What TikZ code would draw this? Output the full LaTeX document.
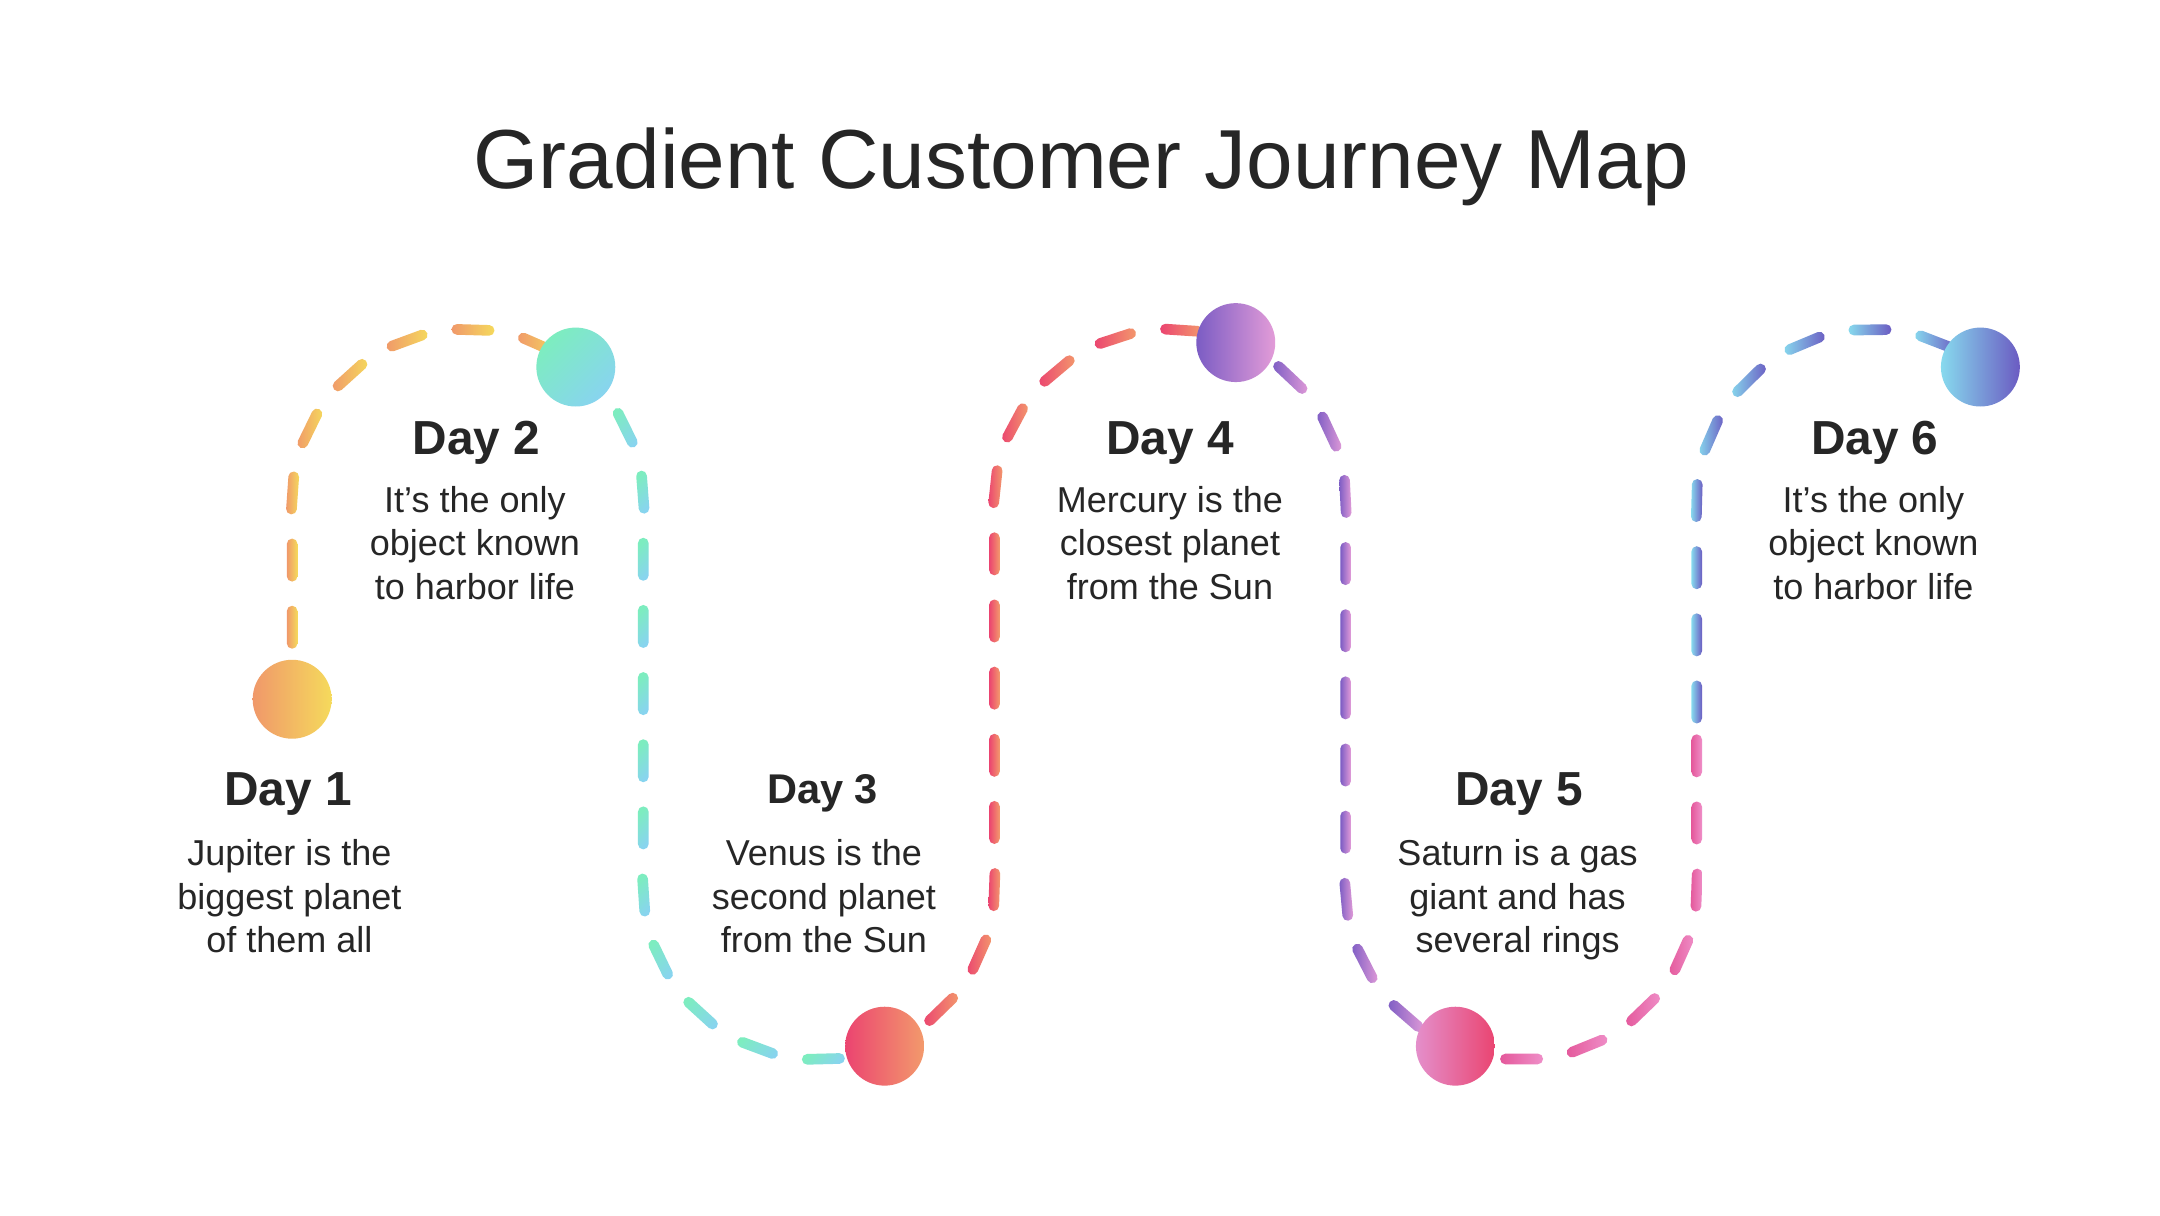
\documentclass[tikz,border=0pt]{standalone}
\usepackage{fontspec}
\setmainfont{Liberation Sans}
\usetikzlibrary{decorations.markings,backgrounds,calc}
\definecolor{ink}{HTML}{262626}
\definecolor{oA}{HTML}{F0986A}
\definecolor{oB}{HTML}{F5DA5C}
\definecolor{gA}{HTML}{7DEDBF}
\definecolor{gB}{HTML}{88D4EF}
\definecolor{rA}{HTML}{EB4470}
\definecolor{rB}{HTML}{F39A6C}
\definecolor{pA}{HTML}{7B5CC4}
\definecolor{pB}{HTML}{E39CD8}
\definecolor{kA}{HTML}{E48FCB}
\definecolor{kB}{HTML}{EA4571}
\definecolor{sA}{HTML}{E4589B}
\definecolor{sB}{HTML}{EF8FC8}
\definecolor{bA}{HTML}{87DAEE}
\definecolor{bB}{HTML}{6B5BC2}
\newcommand\capsuledash[1]{%
  \pgfgettransformentries{\cdA}{\cdB}{\cdC}{\cdD}{\cdX}{\cdY}%
  \pgftransformresetnontranslations
  \pgfmathsetmacro\cdsx{15.5*\cdA-3.85*\cdB}%
  \pgfmathsetmacro\cdsy{15.5*\cdB+3.85*\cdA}%
  \pgfmathsetmacro\cddx{15.5*\cdA+3.85*\cdB}%
  \pgfmathsetmacro\cddy{15.5*\cdB-3.85*\cdA}%
  \pgfmathsetmacro\cdnsx{0-\cdsx}%
  \pgfmathsetmacro\cdnsy{0-\cdsy}%
  \pgfmathsetmacro\cdndx{0-\cddx}%
  \pgfmathsetmacro\cdndy{0-\cddy}%
  \shade[#1, rounded corners=3.8bp]
    (\cdsx bp,\cdsy bp) -- (\cdndx bp,\cdndy bp) -- (\cdnsx bp,\cdnsy bp) -- (\cddx bp,\cddy bp) -- cycle;%
}
\tikzset{
  dashline/.style 2 args={decorate, decoration={markings,
      mark=between positions #2 and 1 step 48.5bp with {\capsuledash{#1}}}},
  dot/.style={circle, inner sep=0pt, minimum size=57bp},
  titletxt/.style={anchor=base, text=ink, font=\fontsize{60.5bp}{70bp}\selectfont},
  daylbl/.style={anchor=base, text=ink, font=\bfseries\fontsize{34.5bp}{40bp}\selectfont},
  daylblsmall/.style={anchor=base, text=ink, font=\bfseries\fontsize{30bp}{36bp}\selectfont},
  bodytxt/.style={anchor=base, text=ink, inner sep=0pt, font=\fontsize{26bp}{31.5bp}\selectfont}
}
\setlength{\tabcolsep}{0pt}
\begin{document}
\begin{tikzpicture}[x=1bp, y=-1bp]
\useasboundingbox (0,0) rectangle (1560,877.5);
% arc centres
\coordinate (c1) at (337.8,365);
\coordinate (c2) at (591.4,638);
\coordinate (c3) at (845,365);
\coordinate (c4) at (1098.6,638);
\coordinate (c5) at (1352.2,365);
\coordinate (mid) at (1225.4,531);
% circles
\node[dot, left color=oA, right color=oB] (d1) at (211,505) {};
\node[dot, top color=gA, bottom color=gB, shading angle=45] (d2) at ($(c1)+(308:126.8)$) {};
\node[dot, left color=rA, right color=rB] (d3) at ($(c2)+(68:126.8)$) {};
\node[dot, left color=pA, right color=pB] (d4) at ($(c3)+(292:126.8)$) {};
\node[dot, left color=kA, right color=kB] (d5) at ($(c4)+(112:126.8)$) {};
\node[dot, left color=bA, right color=bB] (d6) at ($(c5)+(308:126.8)$) {};
% dashed route
\begin{scope}[on background layer]
\fill[white] (0,0) rectangle (1560,877.5);
\path[dashline={left color=oA, right color=oB}{52bp}]
  (d1.center) -- (211,365) arc[start angle=180, end angle=308, radius=126.8];
\path[dashline={top color=gA, bottom color=gB, shading angle=45}{57bp}]
  (d2.center) arc[start angle=308, end angle=360, radius=126.8] -- (464.6,638)
  arc[start angle=180, end angle=68, radius=126.8];
\path[dashline={left color=rA, right color=rB}{49bp}]
  (d3.center) arc[start angle=68, end angle=0, radius=126.8] -- (718.2,365)
  arc[start angle=180, end angle=292, radius=126.8];
\path[dashline={left color=pA, right color=pB}{47bp}]
  (d4.center) arc[start angle=292, end angle=360, radius=126.8] -- (971.8,638)
  arc[start angle=180, end angle=112, radius=126.8];
\path[dashline={left color=sA, right color=sB}{49bp}]
  (d5.center) arc[start angle=112, end angle=0, radius=126.8] -- (mid);
\path[dashline={left color=bA, right color=bB}{24bp}]
  (mid) -- (1225.4,365) arc[start angle=180, end angle=308, radius=126.8];
\end{scope}
% texts
\node[titletxt] (title) at (781,136) {Gradient Customer Journey Map};
\node[daylbl] (h1) at (208,582) {Day 1};
\node[daylbl] (h2) at (344,328) {Day 2};
\node[daylblsmall] (h3) at (594,580) {Day 3};
\node[daylbl] (h4) at (845,328) {Day 4};
\node[daylbl] (h5) at (1097,582) {Day 5};
\node[daylbl] (h6) at (1354,328) {Day 6};
\node[bodytxt] (t1) at (209,625) {\begin{tabular}[t]{c}Jupiter is the\\biggest planet\\of them all\end{tabular}};
\node[bodytxt] (t2) at (343,370) {\begin{tabular}[t]{c}It’s the only\\object known\\to harbor life\end{tabular}};
\node[bodytxt] (t3) at (595,625) {\begin{tabular}[t]{c}Venus is the\\second planet\\from the Sun\end{tabular}};
\node[bodytxt] (t4) at (845,370) {\begin{tabular}[t]{c}Mercury is the\\closest planet\\from the Sun\end{tabular}};
\node[bodytxt] (t5) at (1096,625) {\begin{tabular}[t]{c}Saturn is a gas\\giant and has\\several rings\end{tabular}};
\node[bodytxt] (t6) at (1353,370) {\begin{tabular}[t]{c}It’s the only\\object known\\to harbor life\end{tabular}};
\end{tikzpicture}
\end{document}
